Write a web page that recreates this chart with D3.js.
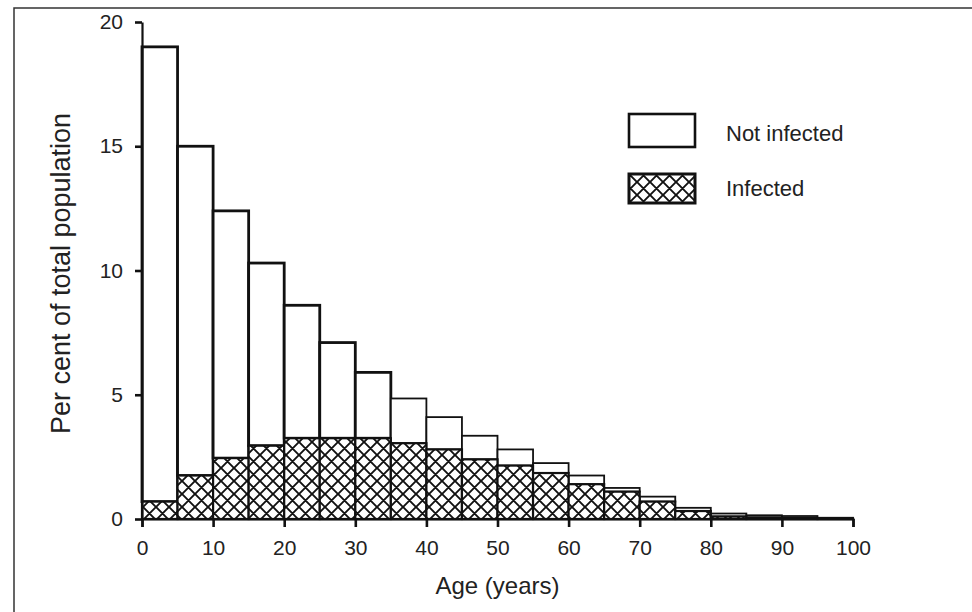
<!DOCTYPE html>
<html>
<head>
<meta charset="utf-8">
<script src="https://cdn.jsdelivr.net/npm/d3@7"></script>
<style>
  body { margin: 0; background: #fff; }
  svg { display: block; font-family: "Liberation Sans", Arial, sans-serif; }
</style>
</head>
<body>
<div id="chart"></div>
<script>
// age groups (lower bound of each 5-year class)
const ageStart = [0, 5, 10, 15, 20, 25, 30, 35, 40, 45, 50, 55, 60, 65, 70, 75, 80, 85, 90, 95];
// total per cent of population in each class (bar top)
const totalPct = [19.0, 15.0, 12.4, 10.3, 8.6, 7.1, 5.9, 4.85, 4.1, 3.35, 2.8, 2.25, 1.75, 1.25, 0.9, 0.45, 0.22, 0.15, 0.12, 0.05];
// infected part
const infectedPct = [0.7, 1.75, 2.45, 2.95, 3.25, 3.25, 3.25, 3.05, 2.8, 2.4, 2.15, 1.85, 1.4, 1.1, 0.7, 0.32, 0.1, 0.06, 0.04, 0.02];
const xTicks = [0, 10, 20, 30, 40, 50, 60, 70, 80, 90, 100];
const yTicks = [0, 5, 10, 15, 20];
const legendItems = ["Not infected", "Infected"];

const W = 972, H = 612;
const MARGIN = { LEFT: 142, RIGHT: 119, TOP: 22, BOTTOM: 93 };
const P = 13; // hatch period

const svg = d3.select("#chart").append("svg")
  .attr("width", W)
  .attr("height", H);

// cross hatch pattern for infected
const defs = svg.append("defs");
const pat = defs.append("pattern")
  .attr("id", "xhatch")
  .attr("patternUnits", "userSpaceOnUse")
  .attr("width", P)
  .attr("height", P);
pat.append("rect").attr("width", P).attr("height", P).attr("fill", "#fff");
pat.append("path")
  .attr("d", `M0,0 L${P},${P} M${P},0 L0,${P} M-1,${P - 1} L1,${P + 1} M${P - 1},-1 L${P + 1},1 M-1,1 L1,-1 M${P - 1},${P + 1} L${P + 1},${P - 1}`)
  .attr("stroke", "#111")
  .attr("stroke-width", 1.9);

// outer frame of the scanned figure
svg.append("rect")
  .attr("x", 14).attr("y", 8)
  .attr("width", W).attr("height", H)
  .attr("fill", "none")
  .attr("stroke", "#333")
  .attr("stroke-width", 1.5);

const x = d3.scaleLinear().domain([0, 100]).range([MARGIN.LEFT, W - MARGIN.RIGHT]);
const y = d3.scaleLinear().domain([0, 20]).range([H - MARGIN.BOTTOM, MARGIN.TOP]);

const data = ageStart.map((a, i) => ({ a, total: totalPct[i], inf: infectedPct[i] }));

// not infected part (from infected top up to total)
svg.selectAll(".notinf")
  .data(data)
  .enter().append("rect")
  .attr("class", "notinf")
  .attr("x", d => x(d.a))
  .attr("width", d => x(d.a + 5) - x(d.a))
  .attr("y", d => y(d.total))
  .attr("height", d => y(d.inf) - y(d.total))
  .attr("fill", "#fff")
  .attr("stroke", "#111")
  .attr("stroke-width", d => d.a < 35 ? 2.8 : 1.8);

// infected part
svg.selectAll(".inf")
  .data(data)
  .enter().append("rect")
  .attr("class", "inf")
  .attr("x", d => x(d.a))
  .attr("width", d => x(d.a + 5) - x(d.a))
  .attr("y", d => y(d.inf))
  .attr("height", d => y(0) - y(d.inf))
  .attr("fill", "url(#xhatch)")
  .attr("stroke", "#111")
  .attr("stroke-width", 2.2);

// x axis
const xAxis = svg.append("g")
  .attr("transform", `translate(0,${y(0)})`)
  .call(d3.axisBottom(x).tickValues(xTicks).tickSize(8).tickPadding(13));
xAxis.select(".domain").attr("stroke", "#111").attr("stroke-width", 2.2);
xAxis.selectAll(".tick line").attr("stroke", "#111").attr("stroke-width", 2.6);
xAxis.selectAll("text")
  .style("font-size", "21px")
  .style("font-family", "Liberation Sans, Arial, sans-serif")
  .attr("fill", "#222");

// y axis
const yAxis = svg.append("g")
  .attr("transform", `translate(${x(0)},0)`)
  .call(d3.axisLeft(y).tickValues(yTicks).tickSize(7).tickSizeOuter(0).tickPadding(12));
yAxis.select(".domain").attr("stroke", "#111").attr("stroke-width", 2.2);
yAxis.selectAll(".tick line").attr("stroke", "#111").attr("stroke-width", 2.6);
yAxis.selectAll("text")
  .style("font-size", "21px")
  .style("font-family", "Liberation Sans, Arial, sans-serif")
  .attr("fill", "#222");

// axis titles
svg.append("text")
  .attr("x", x(50))
  .attr("y", 585)
  .attr("text-anchor", "middle")
  .attr("dominant-baseline", "central")
  .style("font-size", "24px")
  .attr("fill", "#222")
  .text("Age (years)");

svg.append("text")
  .attr("transform", `translate(61,${y(10) + 3}) rotate(-90)`)
  .attr("text-anchor", "middle")
  .attr("dominant-baseline", "central")
  .style("font-size", "27px")
  .attr("fill", "#222")
  .text("Per cent of total population");

// legend
const legend = svg.append("g");
legendItems.forEach((name, i) => {
  const ly = 114 + i * 60;
  legend.append("rect")
    .attr("x", 629).attr("y", ly)
    .attr("width", 66).attr("height", i === 0 ? 33 : 29)
    .attr("fill", i === 0 ? "#fff" : "url(#xhatch)")
    .attr("stroke", "#111")
    .attr("stroke-width", i === 0 ? 2.6 : 3);
  legend.append("text")
    .attr("x", 726)
    .attr("y", i === 0 ? 133 : 188)
    .attr("dominant-baseline", "central")
    .style("font-size", "22px")
    .attr("fill", "#222")
    .text(name);
});
</script>
</body>
</html>
